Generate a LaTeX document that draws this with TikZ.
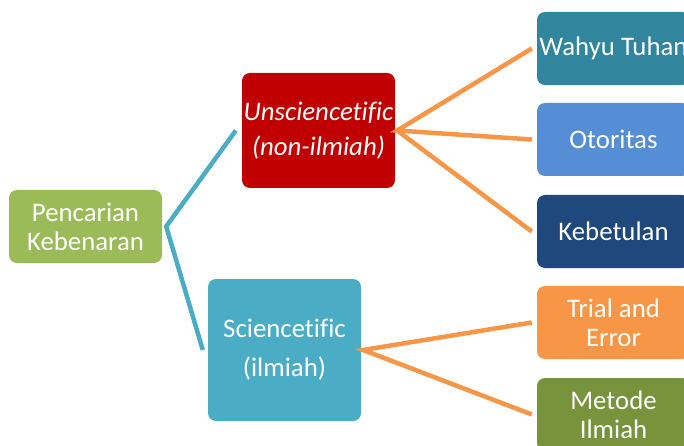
\documentclass[tikz,border=0pt]{standalone}
\usepackage{fontspec}
\setmainfont{Carlito}[Ligatures={NoCommon}]
\definecolor{cGreen}{HTML}{9BBB59}
\definecolor{cRed}{HTML}{C00000}
\definecolor{cAqua}{HTML}{4BACC6}
\definecolor{cTeal}{HTML}{31859C}
\definecolor{cSky}{HTML}{558ED5}
\definecolor{cNavy}{HTML}{1F497D}
\definecolor{cOrange}{HTML}{F79646}
\definecolor{cOlive}{HTML}{77933C}
\tikzset{
  box/.style={rectangle, rounded corners=8pt, inner sep=0pt, minimum width=153pt, text=white, align=center, font=\fontsize{26.8}{29}\selectfont},
  leaf/.style={box, minimum height=73pt},
  blueline/.style={draw=cAqua, line width=4.5pt},
  orangeline/.style={draw=cOrange, line width=4.5pt},
}
\begin{document}
\begin{tikzpicture}[x=1pt, y=-1pt]
\useasboundingbox (0,0) rectangle (684,446);
\node[box, fill=cGreen, minimum height=73pt] (p) at (85.5,226.5) {Pencarian\\Kebenaran};
\node[box, fill=cRed, minimum height=115pt, font=\fontsize{26.8}{35}\selectfont\itshape] (u) at (318.5,130.5) {Unsciencetific\\(non-ilmiah)};
\node[box, fill=cAqua, minimum height=142pt, font=\fontsize{26.8}{39}\selectfont] (s) at (284.5,350) {Sciencetific\\(ilmiah)};
\node[leaf, fill=cTeal] (w) at (613.5,48.5) {Wahyu Tuhan};
\node[leaf, fill=cSky] (o) at (613.5,139.5) {Otoritas};
\node[leaf, fill=cNavy] (k) at (613.5,231.5) {Kebetulan};
\node[leaf, fill=cOrange] (t) at (613.5,322.5) {Trial and\\Error};
\node[leaf, fill=cOlive] (m) at (613.5,414.5) {Metode\\Ilmiah};
\coordinate (pj) at ([xshift=4pt]p.east);
\coordinate (uj) at ([xshift=2pt]u.east);
\coordinate (sj) at ([xshift=2pt]s.east);
\draw[blueline, line join=miter] ([xshift=-6pt]u.west) -- (pj) -- ([xshift=-5pt]s.west);
\draw[orangeline] ([xshift=-5pt]w.west) -- (uj) -- ([xshift=-5pt]o.west);
\draw[orangeline] (uj) -- ([xshift=-5pt]k.west);
\draw[orangeline] ([xshift=-5pt]t.west) -- (sj) -- ([xshift=-5pt]m.west);
\end{tikzpicture}
\end{document}
